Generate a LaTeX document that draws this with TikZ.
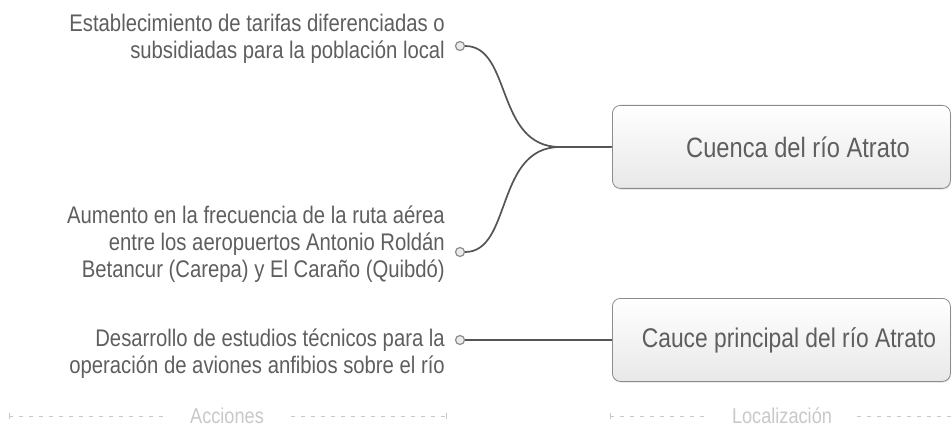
\documentclass[tikz,border=0pt]{standalone}
\usepackage{fontspec}
\setmainfont[FakeStretch=0.845]{Liberation Sans}
\usetikzlibrary{shadows}
\definecolor{txt}{HTML}{5E5E5E}
\definecolor{ln}{HTML}{555555}
\definecolor{leg}{HTML}{C8C8C8}
\tikzset{
  actiontext/.style={anchor=base east, align=right, text=txt, font=\fontsize{24}{27}\selectfont, inner sep=0pt},
  locbox/.style={draw=black!45, line width=0.8pt, rounded corners=8pt, top color=white, bottom color=black!9,
     minimum width=338pt, minimum height=83pt, anchor=north west,
     drop shadow={shadow xshift=0.6pt, shadow yshift=-1.2pt, opacity=0.25}},
  loctext/.style={text=txt, font=\fontsize{28}{32}\selectfont, inner sep=0pt},
  dot/.style={circle, draw=black!45, fill=black!8, line width=1.2pt, minimum size=9pt, inner sep=0pt},
  conn/.style={draw=ln, line width=1.7pt},
  legline/.style={draw=leg, line width=1pt, dash pattern=on 4pt off 6pt},
  legtick/.style={draw=leg, line width=1pt},
  legtext/.style={text=leg, font=\fontsize{21.5}{24}\selectfont, inner sep=0pt}
}
\begin{document}
\begin{tikzpicture}[x=1pt,y=-1pt]
\useasboundingbox (0,0) rectangle (952,430);
% boxes
\node[locbox] (b1) at (612,105) {};
\node[locbox] (b2) at (612,298) {};
\node[loctext] (c1) at (798,147) {Cuenca del río Atrato};
\node[loctext, font=\fontsize{27}{32}\selectfont] (c2) at (789,340) {Cauce principal del río Atrato};
% texts (anchored at the baseline of the last line)
\node[actiontext] (t1) at (445,59) {Establecimiento de tarifas diferenciadas o\\subsidiadas para la población local};
\node[actiontext] (t2) at (445,277) {Aumento en la frecuencia de la ruta aérea\\entre los aeropuertos Antonio Roldán\\Betancur (Carepa) y El Caraño (Quibdó)};
\node[actiontext] (t3) at (445,373) {Desarrollo de estudios técnicos para la\\operación de aviones anfibios sobre el río};
% dots
\node[dot] (d1) at (460,46) {};
\node[dot] (d2) at (460,252) {};
\node[dot] (d3) at (460,340) {};
\coordinate (j) at (560,147);
% connectors
\draw[conn] (d1.east) .. controls +(47,0) and (495,147) .. (j);
\draw[conn] (d2.east) .. controls +(47,0) and (495,147) .. (j);
\draw[conn] (j) -- (b1.west);
\draw[conn] (d3.east) -- (d3.east -| b2.west);
% legend
\node[legtext] (la) at (227,416) {Acciones};
\node[legtext] (ll) at (782,416) {Localización};
\coordinate (a1) at (9,416);
\coordinate (a2) at (446,416);
\coordinate (l1) at (610,416);
\coordinate (l2) at (952,416);
\draw[legline] (a1) -- ([xshift=-27pt]la.west);
\draw[legline] ([xshift=27pt]la.east) -- (a2);
\draw[legline] (l1) -- ([xshift=-25pt]ll.west);
\draw[legline] ([xshift=25pt]ll.east) -- (l2);
\draw[legtick] ([yshift=-3pt]a1) -- ([yshift=3pt]a1);
\draw[legtick] ([yshift=-3pt]a2) -- ([yshift=3pt]a2);
\draw[legtick] ([yshift=-3pt]l1) -- ([yshift=3pt]l1);
\end{tikzpicture}
\end{document}
